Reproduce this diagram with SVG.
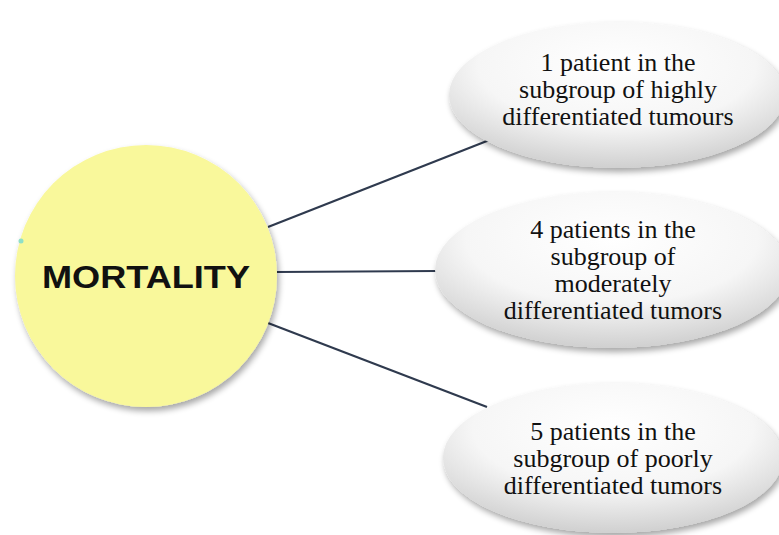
<svg xmlns="http://www.w3.org/2000/svg" width="779" height="535" viewBox="0 0 779 535">
<defs>
<radialGradient id="eg" cx="0.5" cy="0.3" r="0.75">
<stop offset="0" stop-color="#ffffff"/>
<stop offset="0.55" stop-color="#f6f6f6"/>
<stop offset="1" stop-color="#c9c9c9"/>
</radialGradient>
<filter id="sh" x="-20%" y="-20%" width="140%" height="150%">
<feGaussianBlur in="SourceAlpha" stdDeviation="3"/>
<feOffset dx="2" dy="4" result="b"/>
<feComponentTransfer><feFuncA type="linear" slope="0.35"/></feComponentTransfer>
<feMerge><feMergeNode/><feMergeNode in="SourceGraphic"/></feMerge>
</filter>
</defs>
<style>
.lbl{font-family:"Liberation Serif","Times New Roman",serif;font-size:26px;fill:#111;text-anchor:middle}
.conn line{stroke:#2f3a4e;stroke-width:2.2}
.ell{fill:url(#eg);filter:url(#sh)}
</style>
<rect width="779" height="535" fill="#ffffff"/>
<g id="connectors" class="conn">
<line x1="268" y1="227" x2="492" y2="139"/>
<line x1="277" y1="272" x2="437" y2="271"/>
<line x1="268" y1="323" x2="487" y2="407"/>
</g>
<g id="mortality">
<circle cx="146" cy="276" r="131" fill="#f9f89b" filter="url(#sh)"/>
<circle cx="21" cy="241" r="2.5" fill="#8fe0c8"/>
<text x="146" y="288" font-family="'Liberation Sans',Arial,sans-serif" font-weight="bold" font-size="32" fill="#111" text-anchor="middle" textLength="208" lengthAdjust="spacingAndGlyphs">MORTALITY</text>
</g>
<g id="highly">
<ellipse class="ell" cx="617" cy="95" rx="168" ry="73"/>
<text class="lbl" x="618" y="71">1 patient in the</text>
<text class="lbl" x="618" y="98">subgroup of highly</text>
<text class="lbl" x="618" y="125">differentiated tumours</text>
</g>
<g id="moderately">
<ellipse class="ell" cx="612" cy="270" rx="177" ry="78"/>
<text class="lbl" x="613" y="238">4 patients in the</text>
<text class="lbl" x="613" y="265">subgroup of</text>
<text class="lbl" x="613" y="292">moderately</text>
<text class="lbl" x="613" y="319">differentiated tumors</text>
</g>
<g id="poorly">
<ellipse class="ell" cx="613" cy="458" rx="170" ry="75"/>
<text class="lbl" x="613" y="440">5 patients in the</text>
<text class="lbl" x="613" y="467">subgroup of poorly</text>
<text class="lbl" x="613" y="494">differentiated tumors</text>
</g>
</svg>
